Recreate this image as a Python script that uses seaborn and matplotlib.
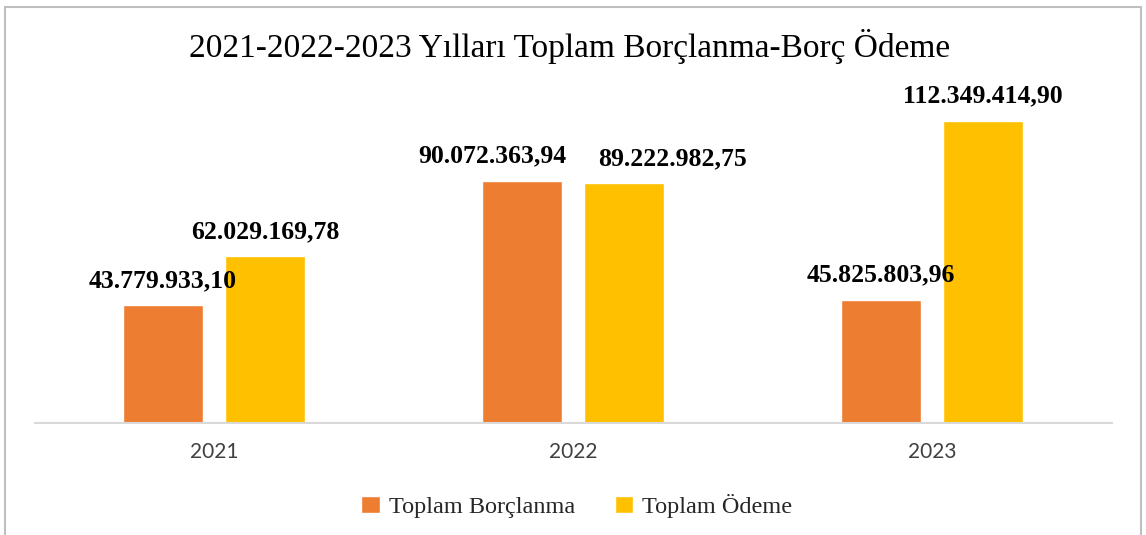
import matplotlib
matplotlib.use("Agg")
import matplotlib.pyplot as plt
from matplotlib.patches import Rectangle
import seaborn as sns
import pandas as pd

years = ["2021", "2022", "2023"]
series = ["Toplam Borçlanma", "Toplam Ödeme"]
borclanma = [43779933.10, 90072363.94, 45825803.96]
odeme = [62029169.78, 89222982.75, 112349414.90]
colors = ["#ED7D31", "#FFC000"]

# label nudges in pixels (the 2022 labels were moved apart in the original)
label_dx = [[0, -30, 0], [0, 49, 0]]


def tr_fmt(v):
    s = "{:,.2f}".format(v)
    return s.replace(",", "X").replace(".", ",").replace("X", ".")


df = pd.DataFrame({
    "Yıl": years * 2,
    "Tutar": borclanma + odeme,
    "Seri": [series[0]] * 3 + [series[1]] * 3,
})

sns.set_style("white")
serif = ["Liberation Serif", "DejaVu Serif"]

fig = plt.figure(figsize=(11.46, 5.35), dpi=100)
ax = fig.add_axes([34.5 / 1146, 112 / 535, 1077 / 1146, 328 / 535])

sns.barplot(data=df, x="Yıl", y="Tutar", hue="Seri", palette=colors,
            width=0.568, gap=0.216, saturation=1, ax=ax)

ax.set_xlim(-0.5, 2.5)
ax.set_ylim(0, 121.9e6)
ax.set_xlabel("")
ax.set_ylabel("")
ax.set_yticks([])
sns.despine(ax=ax, left=True, top=True, right=True)
ax.spines["bottom"].set_color("#D9D9D9")
ax.spines["bottom"].set_linewidth(1.5)
ax.tick_params(axis="x", length=0, pad=14, labelsize=15, labelcolor="#404040")
for t in ax.get_xticklabels():
    t.set_fontfamily(["Lato", "DejaVu Sans"])

handles, labels = ax.get_legend_handles_labels()
ax.get_legend().remove()

for i, cont in enumerate(ax.containers):
    for j, bar in enumerate(cont):
        x = bar.get_x() + bar.get_width() / 2
        y = bar.get_height()
        ax.annotate(tr_fmt(y), (x, y), xytext=(label_dx[i][j], 18),
                    textcoords="offset pixels", ha="center", va="baseline",
                    fontsize=18.5, fontweight="bold", family=serif,
                    color="#000000", annotation_clip=False)

fig.text(570 / 1146, 1 - 47 / 535, "2021-2022-2023 Yılları Toplam Borçlanma-Borç Ödeme",
         ha="center", va="center", fontsize=24, family=serif, color="#000000")

fig.legend(handles, labels, loc="center", bbox_to_anchor=(577 / 1146, 1 - 506 / 535),
           ncol=2, frameon=False, prop={"family": serif, "size": 17.5},
           handlelength=0.75, handleheight=0.75, handletextpad=0.4,
           columnspacing=1.6)

fig.add_artist(Rectangle((5 / 1146, -0.05), 1136 / 1146, (528 / 535) + 0.05,
                         transform=fig.transFigure, fill=False,
                         ec="#BFBFBF", lw=1.5))

plt.savefig("out.png", dpi=100)
